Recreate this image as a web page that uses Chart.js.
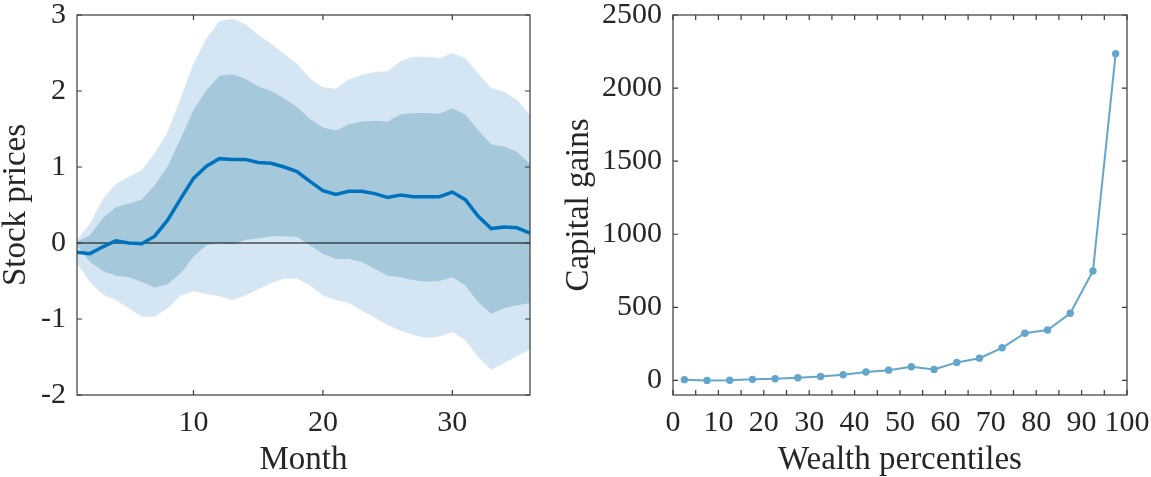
<!DOCTYPE html>
<html>
<head>
<meta charset="utf-8">
<script src="https://cdn.jsdelivr.net/npm/chart.js@4.4.0/dist/chart.umd.min.js"></script>
<style>
html,body{margin:0;padding:0;background:#fff;}
#wrap{position:relative;width:1151px;height:477px;}
canvas{position:absolute;top:0;}
#irfChart{left:0;}
#gainsChart{left:560px;}
</style>
</head>
<body>
<div id="wrap">
<canvas id="irfChart" width="560" height="477"></canvas>
<canvas id="gainsChart" width="591" height="477"></canvas>
</div>
<script>
// Left panel: stock price response with bands
const months = [1,2,3,4,5,6,7,8,9,10,11,12,13,14,15,16,17,18,19,20,21,22,23,24,25,26,27,28,29,30,31,32,33,34,35,36];
const median = [-0.12,-0.14,-0.05,0.03,0.00,-0.01,0.09,0.30,0.58,0.85,1.01,1.11,1.10,1.10,1.06,1.05,1.00,0.94,0.81,0.69,0.64,0.68,0.68,0.65,0.60,0.63,0.61,0.61,0.61,0.67,0.57,0.35,0.19,0.21,0.20,0.13];
const innerUpper = [0.02,0.10,0.33,0.47,0.52,0.57,0.76,1.01,1.37,1.75,2.01,2.20,2.22,2.16,2.06,2.00,1.90,1.79,1.63,1.52,1.48,1.56,1.60,1.61,1.60,1.69,1.71,1.71,1.70,1.77,1.69,1.48,1.30,1.27,1.20,1.04];
const innerLower = [-0.03,-0.25,-0.37,-0.43,-0.45,-0.51,-0.59,-0.54,-0.40,-0.18,-0.03,0.00,-0.02,0.04,0.06,0.09,0.09,0.08,-0.03,-0.14,-0.21,-0.21,-0.25,-0.34,-0.43,-0.45,-0.49,-0.51,-0.50,-0.45,-0.56,-0.78,-0.93,-0.86,-0.82,-0.79];
const outerUpper = [0.04,0.25,0.58,0.78,0.87,0.96,1.18,1.46,1.90,2.36,2.69,2.92,2.95,2.88,2.74,2.62,2.49,2.36,2.16,2.05,2.03,2.15,2.21,2.25,2.26,2.39,2.45,2.45,2.43,2.50,2.43,2.23,2.04,1.99,1.88,1.68];
const outerLower = [-0.27,-0.51,-0.68,-0.75,-0.86,-0.97,-0.97,-0.86,-0.69,-0.63,-0.67,-0.70,-0.75,-0.69,-0.61,-0.53,-0.47,-0.47,-0.56,-0.69,-0.75,-0.79,-0.89,-0.98,-1.08,-1.15,-1.21,-1.25,-1.23,-1.17,-1.28,-1.50,-1.67,-1.58,-1.49,-1.40];
const monthTicks = [10,20,30];
const priceTicks = [-2,-1,0,1,2,3];

// Right panel: capital gains by wealth percentile
const percentiles = [2.5,7.5,12.5,17.5,22.5,27.5,32.5,37.5,42.5,47.5,52.5,57.5,62.5,67.5,72.5,77.5,82.5,87.5,92.5,97.5];
const capitalGains = [5,0,1,7,11,18,27,39,57,70,93,75,123,152,223,323,345,459,748,2235];
const percentileTicks = [0,10,20,30,40,50,60,70,80,90,100];
const percentileMarks = [0,5,10,15,20,25,30,35,40,45,50,55,60,65,70,75,80,85,90,95,100];
const gainsTicks = [0,500,1000,1500,2000,2500];

const familia = "'Liberation Serif', 'DejaVu Serif', serif";
const fonteTicks = { family: familia, size: 30, lineHeight: 1.0 };
const fonteTitulo = { family: familia, size: 33, lineHeight: 1.0 };
const corTexto = '#262626';

// Box around plot area with inward ticks on all sides
const boxTicks = {
    id: 'boxTicks',
    afterDatasetsDraw(chart, args, opts){
        const { ctx, chartArea: a, scales } = chart;
        ctx.save();
        ctx.strokeStyle = '#3a3a3a';
        ctx.lineWidth = 1.2;
        ctx.beginPath();
        opts.xMarks.forEach(v => {
            const px = scales.x.getPixelForValue(v);
            ctx.moveTo(px, a.bottom); ctx.lineTo(px, a.bottom - 5);
            ctx.moveTo(px, a.top); ctx.lineTo(px, a.top + 5);
        });
        opts.yMarks.forEach(v => {
            const py = scales.y.getPixelForValue(v);
            ctx.moveTo(a.left, py); ctx.lineTo(a.left + 5, py);
            ctx.moveTo(a.right, py); ctx.lineTo(a.right - 5, py);
        });
        ctx.stroke();
        ctx.strokeRect(a.left, a.top, a.right - a.left, a.bottom - a.top);
        ctx.restore();
    }
};

function pares(xs, ys){
    return xs.map((x, i) => ({ x: x, y: ys[i] }));
}

function eixos(xMin, xMax, xTicks, xTitulo, yMin, yMax, yTicks, yTitulo, yLargura){
    return {
        x: {
            type: 'linear', min: xMin, max: xMax,
            grid: { display: false, drawTicks: false }, border: { display: false },
            afterBuildTicks: s => { s.ticks = xTicks.map(v => ({ value: v })); },
            afterFit: s => { s.height = 82; s.paddingLeft = 0; s.paddingRight = 0; },
            ticks: { font: fonteTicks, color: corTexto, padding: 13, maxRotation: 0, autoSkip: false, callback: v => String(v) },
            title: { display: true, text: xTitulo, font: fonteTitulo, color: corTexto, padding: 0 }
        },
        y: {
            type: 'linear', min: yMin, max: yMax,
            grid: { display: false, drawTicks: false }, border: { display: false },
            afterBuildTicks: s => { s.ticks = yTicks.map(v => ({ value: v })); },
            afterFit: s => { s.width = yLargura; s.paddingTop = 0; s.paddingBottom = 0; },
            ticks: { font: fonteTicks, color: corTexto, padding: 11, callback: v => String(v) },
            title: { display: true, text: yTitulo, font: fonteTitulo, color: corTexto, padding: 0 }
        }
    };
}

function criarGraficoIRF(){
    const ctx = document.getElementById('irfChart').getContext('2d');
    new Chart(ctx, {
        type: 'line',
        data: {
            datasets: [
                { data: pares(months, median), borderColor: '#0072bd', borderWidth: 3.5, pointRadius: 0, fill: false },
                { data: [{ x: months[0], y: 0 }, { x: months[months.length - 1], y: 0 }], borderColor: '#000', borderWidth: 1, pointRadius: 0, fill: false },
                { data: pares(months, innerUpper), borderWidth: 0, pointRadius: 0, backgroundColor: '#a5c8db', fill: '+1' },
                { data: pares(months, innerLower), borderWidth: 0, pointRadius: 0, fill: false },
                { data: pares(months, outerUpper), borderWidth: 0, pointRadius: 0, backgroundColor: '#d4e6f4', fill: '+1' },
                { data: pares(months, outerLower), borderWidth: 0, pointRadius: 0, fill: false }
            ]
        },
        options: {
            responsive: false, animation: false,
            layout: { padding: { left: 0, right: 30, top: 15, bottom: 0 } },
            scales: eixos(1, 36, monthTicks, 'Month', -2, 3, priceTicks, 'Stock prices', 77),
            plugins: {
                legend: { display: false }, tooltip: { enabled: false },
                boxTicks: { xMarks: monthTicks, yMarks: priceTicks }
            }
        },
        plugins: [boxTicks]
    });
}

function criarGraficoGanhos(){
    const ctx = document.getElementById('gainsChart').getContext('2d');
    new Chart(ctx, {
        type: 'line',
        data: {
            datasets: [{
                data: pares(percentiles, capitalGains),
                borderColor: '#64a6cb', borderWidth: 2,
                pointRadius: 3.7, pointBackgroundColor: '#64a6cb', pointBorderWidth: 0,
                fill: false
            }]
        },
        options: {
            responsive: false, animation: false,
            layout: { padding: { left: 3, right: 24, top: 15, bottom: 0 } },
            scales: eixos(0, 100, percentileTicks, 'Wealth percentiles', -100, 2500, gainsTicks, 'Capital gains', 110),
            plugins: {
                legend: { display: false }, tooltip: { enabled: false },
                boxTicks: { xMarks: percentileMarks, yMarks: gainsTicks }
            }
        },
        plugins: [boxTicks]
    });
}

criarGraficoIRF();
criarGraficoGanhos();
</script>
</body>
</html>
